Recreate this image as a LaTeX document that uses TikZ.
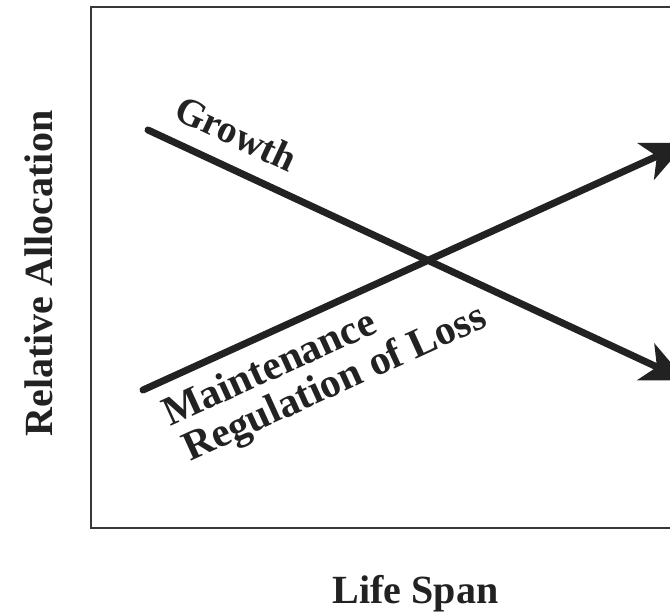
\documentclass[tikz,border=0pt]{standalone}
\usepackage{fontspec}
\setmainfont{Liberation Serif}
\usetikzlibrary{arrows.meta}
\definecolor{ink}{HTML}{222222}
\begin{document}
\begin{tikzpicture}[x=1pt,y=-1pt,
  curve/.style={line width=7pt, draw=ink, line cap=round, -{Stealth[length=44pt,width=40pt,inset=12pt]}},
  lbl/.style={inner sep=0pt, text=ink, font=\bfseries\fontsize{41.3}{40.2}\selectfont},
  growthlbl/.style={inner sep=0pt, text=ink, font=\bfseries\fontsize{39}{41}\selectfont},
  axislbl/.style={inner sep=0pt, text=ink, font=\bfseries\fontsize{40}{44}\selectfont},
  frame/.style={draw=ink!90, line width=2.2pt}]
\useasboundingbox (0,0) rectangle (670,612);
\clip (0,0) rectangle (670,612);
\fill[white] (0,0) rectangle (670,612);
\draw[frame] (91,7) rectangle (720,528);
\coordinate (gs) at (148,130);
\coordinate (ge) at (686,380.5);
\coordinate (ms) at (143,390);
\coordinate (me) at (686,143);
\draw[curve] (gs) -- (ge);
\draw[curve] (ms) -- (me);
\node[growthlbl, rotate=-25, anchor=base west] (growth) at (172,118) {Growth};
\node[lbl, rotate=24.5, anchor=base west, align=left] (maint) at (186.7,463.6) {Maintenance\\\hspace*{3.7pt}Regulation of Loss};
\node[axislbl, rotate=90] (yaxis) at (38.5,273.5) {Relative Allocation};
\node[axislbl, anchor=base] (xaxis) at (415.5,603) {Life Span};
\end{tikzpicture}
\end{document}
